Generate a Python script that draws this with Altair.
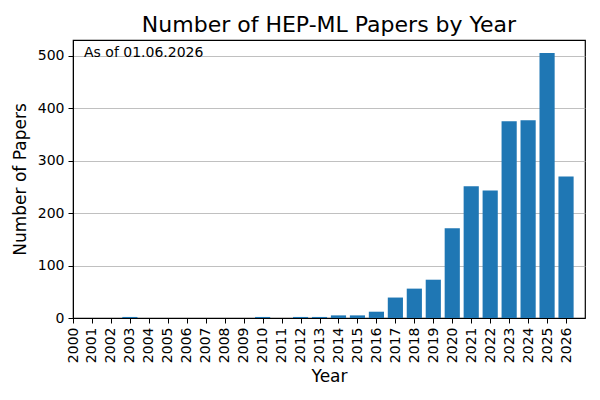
import altair as alt
import pandas as pd

years = list(range(2000, 2027))
papers = [0, 0, 0, 2, 0, 0, 0, 0, 0, 0,
          2, 0, 2, 2, 5, 5, 12, 39, 56, 73,
          171, 251, 243, 375, 377, 505, 270]

df = pd.DataFrame({"year": years, "papers": papers})

font = "DejaVu Sans"

bars = (
    alt.Chart(df)
    .transform_calculate(x0="datum.year - 0.4", x1="datum.year + 0.4", base="0")
    .mark_bar(color="#1f77b4")
    .encode(
        x=alt.X(
            "x0:Q",
            scale=alt.Scale(domain=[2000, 2027], nice=False, zero=False),
            axis=alt.Axis(
                title="Year",
                values=years,
                format="d",
                labelAngle=270,
                labelAlign="right",
                labelBaseline="middle",
                grid=False,
            ),
        ),
        x2="x1:Q",
        y=alt.Y(
            "papers:Q",
            scale=alt.Scale(domain=[0, 530], nice=False),
            axis=alt.Axis(title="Number of Papers", values=[0, 100, 200, 300, 400, 500]),
        ),
        y2="base:Q",
    )
)

note = (
    alt.Chart(pd.DataFrame({"t": ["As of 01.06.2026"]}))
    .mark_text(align="left", baseline="top", fontSize=14, font=font, color="black")
    .encode(text="t:N", x=alt.value(11), y=alt.value(6))
)

chart = (
    alt.layer(bars, note)
    .properties(
        width=512,
        height=278,
        autosize="none",
        padding={"left": 65, "top": 32, "right": 7, "bottom": 74},
        title=alt.TitleParams(
            "Number of HEP-ML Papers by Year",
            fontSize=22,
            fontWeight="normal",
            font=font,
            color="black",
            anchor="middle",
            baseline="alphabetic",
            frame="group",
            offset=8,
            dy=22,
        ),
    )
    .configure_view(stroke="black", strokeWidth=1.2)
    .configure_axis(
        labelFont=font,
        titleFont=font,
        labelFontSize=14,
        titleFontSize=17,
        titleFontWeight="normal",
        labelColor="black",
        titleColor="black",
        domainColor="black",
        tickColor="black",
        tickSize=5,
        labelPadding=4,
        gridColor="#b0b0b0",
        gridWidth=0.8,
    )
    .configure_axisY(titlePadding=8)
    .configure_axisX(titlePadding=6)
)

chart.save("out.html", embed_options={"renderer": "svg", "actions": False})
